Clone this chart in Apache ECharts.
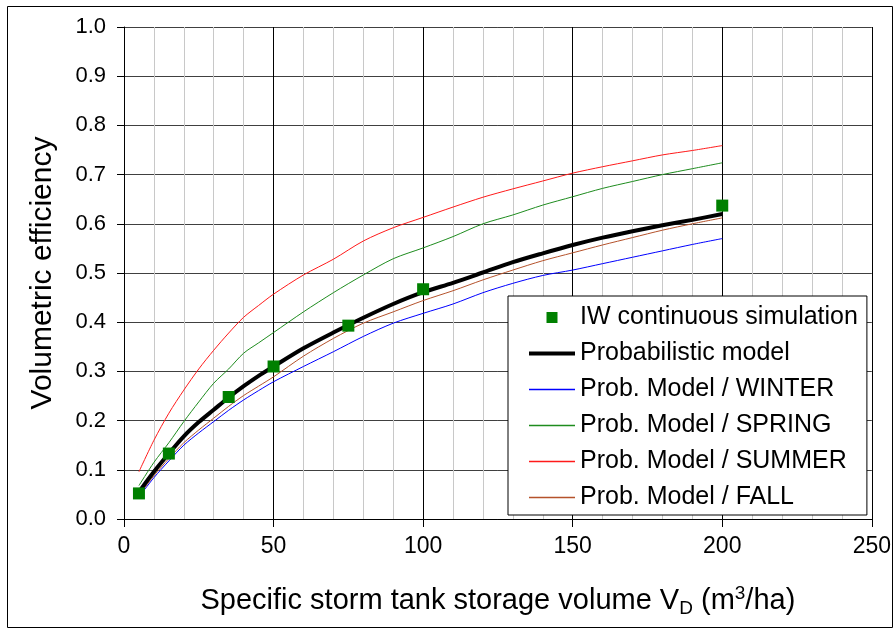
<!DOCTYPE html>
<html>
<head>
<meta charset="utf-8">
<script src="https://cdn.jsdelivr.net/npm/echarts@6/dist/echarts.min.js"></script>
<style>html,body{margin:0;padding:0;background:#fff}#c{width:894px;height:630px}</style>
</head>
<body>
<div id="c"></div>
<script>
var xs = [5,10,15,20,25,30,35,40,45,50,60,70,80,90,100,110,120,130,140,150,160,170,180,190,200];
var probModel = [0.055,0.096,0.133,0.168,0.197,0.222,0.247,0.27,0.291,0.31,0.347,0.379,0.409,0.437,0.461,0.48,0.501,0.522,0.54,0.557,0.572,0.585,0.597,0.608,0.62];
var winter = [0.045,0.084,0.118,0.15,0.175,0.198,0.221,0.242,0.261,0.279,0.31,0.34,0.371,0.398,0.418,0.437,0.46,0.479,0.495,0.506,0.519,0.532,0.545,0.558,0.57];
var spring = [0.068,0.115,0.155,0.198,0.238,0.276,0.305,0.337,0.358,0.379,0.421,0.46,0.496,0.529,0.551,0.574,0.6,0.618,0.638,0.655,0.672,0.686,0.7,0.712,0.724];
var summer = [0.096,0.16,0.215,0.262,0.305,0.343,0.378,0.41,0.434,0.457,0.496,0.528,0.565,0.592,0.613,0.634,0.654,0.671,0.687,0.703,0.716,0.728,0.74,0.749,0.759];
var fall = [0.048,0.088,0.123,0.155,0.181,0.205,0.229,0.251,0.27,0.289,0.331,0.367,0.398,0.421,0.444,0.464,0.486,0.506,0.525,0.541,0.557,0.572,0.587,0.6,0.612];
var simX = [5,15,35,50,75,100,200];
var simY = [0.052,0.133,0.248,0.31,0.393,0.467,0.637];
var names = ['IW continuous simulation','Probabilistic model','Prob. Model / WINTER','Prob. Model / SPRING','Prob. Model / SUMMER','Prob. Model / FALL'];
var colors = ['#008000','#000000','#0000ff','#1e8c1e','#ff1a1a','#b5522b'];

function pairs(x, y){ return x.map(function(v,i){ return [v, y[i]]; }); }
var FONT = "'Liberation Sans', Arial, sans-serif";
function lineSeries(i, data, width){
  return {type:'line', name:names[i], data:pairs(xs,data), symbol:'none', smooth:0.3,
    lineStyle:{color:colors[i], width:width}, itemStyle:{color:colors[i]}, z:2};
}
var thinIcon = 'path://M0,0h46v1.4h-46z';
var thickIcon = 'path://M0,0h46v4h-46z';
var squareIcon = 'path://M0,0h1v1h-1z';
var icons = [squareIcon, thickIcon, thinIcon, thinIcon, thinIcon, thinIcon];
var chart = echarts.init(document.getElementById('c'), null, {renderer:'canvas'});
chart.setOption({
  animation:false,
  backgroundColor:'#fff',
  textStyle:{fontFamily:FONT, color:'#000'},
  grid:{left:124, right:21, top:27, bottom:111, containLabel:false},
  graphic:[{type:'rect', shape:{x:7.5, y:6.5, width:885, height:621}, style:{fill:null, stroke:'#000', lineWidth:1}, silent:true, z:-1}],
  xAxis:{type:'value', min:0, max:250, interval:50,
    name:'Specific storm tank storage volume V{sub|D} (m{sup|3}/ha)', nameLocation:'middle', nameGap:65,
    nameTextStyle:{fontSize:29, fontFamily:FONT, color:'#000', lineHeight:34,
      rich:{sub:{fontSize:19, fontFamily:FONT, color:'#000', lineHeight:16, verticalAlign:'bottom'},
            sup:{fontSize:19, fontFamily:FONT, color:'#000', lineHeight:16, verticalAlign:'top'}}},
    axisLine:{show:true, onZero:false, lineStyle:{color:'#000', width:1}},
    axisTick:{show:true, length:8, lineStyle:{color:'#000'}},
    axisLabel:{fontSize:23, color:'#000', margin:16, fontFamily:FONT},
    splitLine:{show:true, lineStyle:{color:'#000', width:1}},
    minorTick:{show:false, splitNumber:5},
    minorSplitLine:{show:true, lineStyle:{color:'#c8c8c8', width:1}}
  },
  yAxis:{type:'value', min:0, max:1, interval:0.1,
    name:'Volumetric efficiency', nameLocation:'middle', nameGap:66,
    nameTextStyle:{fontSize:30, fontFamily:FONT, color:'#000'},
    axisLine:{show:true, onZero:false, lineStyle:{color:'#000', width:1}},
    axisTick:{show:true, length:7, lineStyle:{color:'#000'}},
    axisLabel:{fontSize:22, color:'#000', margin:18, fontFamily:FONT, formatter:function(v){return v.toFixed(1);}},
    splitLine:{show:true, lineStyle:{color:'#404040', width:1}}
  },
  legend:{orient:'vertical', left:508, top:296,
    data:names.map(function(n,i){ return {name:n, icon:icons[i], itemStyle:{color:colors[i], borderWidth:0, opacity:1}}; }),
    itemWidth:46, itemHeight:11, itemGap:11, symbolKeepAspect:true,
    itemStyle:{borderWidth:0},
    padding:[9,9,5,21], backgroundColor:'#fff', borderColor:'#000', borderWidth:1, borderRadius:0,
    textStyle:{fontSize:25, fontFamily:FONT, color:'#000', lineHeight:24},
    selectedMode:false},
  series:[
    lineSeries(2, winter, 1),
    lineSeries(3, spring, 1),
    lineSeries(4, summer, 1),
    lineSeries(5, fall, 1),
    lineSeries(1, probModel, 4),
    {type:'scatter', name:names[0], data:pairs(simX, simY), symbol:'rect', symbolSize:12,
      itemStyle:{color:colors[0], opacity:1}, z:3}
  ]
});
</script>
</body>
</html>
